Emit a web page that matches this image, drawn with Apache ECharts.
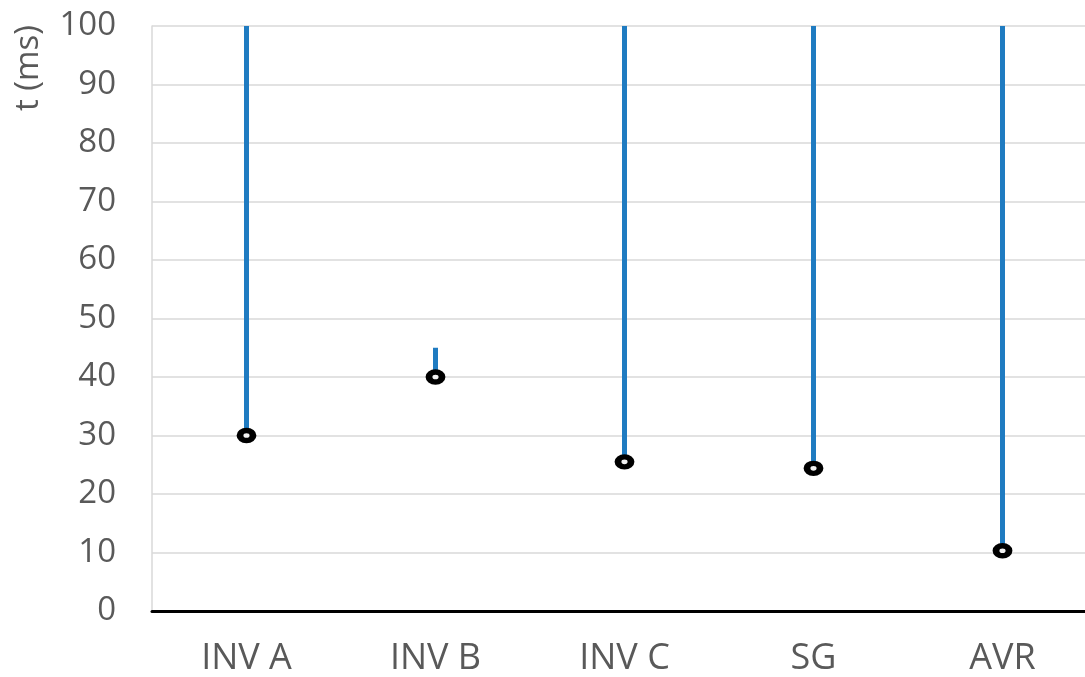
<!DOCTYPE html>
<html>
<head>
<meta charset="utf-8">
<script src="https://cdn.jsdelivr.net/npm/echarts@6/dist/echarts.min.js"></script>
<style>html,body{margin:0;padding:0;background:#fff}#c{width:1085px;height:677px}</style>
</head>
<body>
<div id="c"></div>
<script>
const categories = ['INV A', 'INV B', 'INV C', 'SG', 'AVR'];
const lowValues = [30, 40, 25.5, 24.4, 10.3];
const highValues = [100, 45, 100, 100, 100];
const yTicks = { min: 0, max: 100, interval: 10 };

const rangeValues = highValues.map((h, i) => h - lowValues[i]);
const font = '"Open Sans", "Noto Sans", sans-serif';
const chart = echarts.init(document.getElementById('c'));
chart.setOption({
  animation: false,
  grid: { left: 152, top: 26, right: -12, bottom: 66, containLabel: false, outerBoundsMode: 'none' },
  graphic: [{
    type: 'text', x: 29, y: 68, rotation: Math.PI / 2,
    style: { text: 't (ms)', font: '33px ' + font, fill: '#595959', align: 'center', verticalAlign: 'middle' }
  }],
  xAxis: {
    type: 'category', data: categories,
    axisLine: { lineStyle: { color: '#000', width: 3 } },
    axisTick: { show: false },
    axisLabel: { color: '#595959', fontSize: 36, fontFamily: font, margin: 30 }
  },
  yAxis: {
    type: 'value', min: yTicks.min, max: yTicks.max, interval: yTicks.interval,
    axisLine: { show: true, lineStyle: { color: '#d9d9d9', width: 1.5 } },
    axisTick: { show: false },
    splitLine: { lineStyle: { color: '#d9d9d9', width: 1.5 } },
    axisLabel: { color: '#595959', fontSize: 33, fontFamily: font, margin: 36 }
  },
  series: [
    { type: 'bar', stack: 'r', data: lowValues, itemStyle: { color: 'transparent' }, barWidth: 5, silent: true },
    { type: 'bar', stack: 'r', data: rangeValues, itemStyle: { color: '#1f7bc1' }, barWidth: 5 },
    { type: 'scatter', data: lowValues, symbol: 'circle', symbolSize: [13, 10], z: 5,
      itemStyle: { color: '#f2f2f2', borderColor: '#000', borderWidth: 6, opacity: 1 } }
  ]
});
</script>
</body>
</html>
